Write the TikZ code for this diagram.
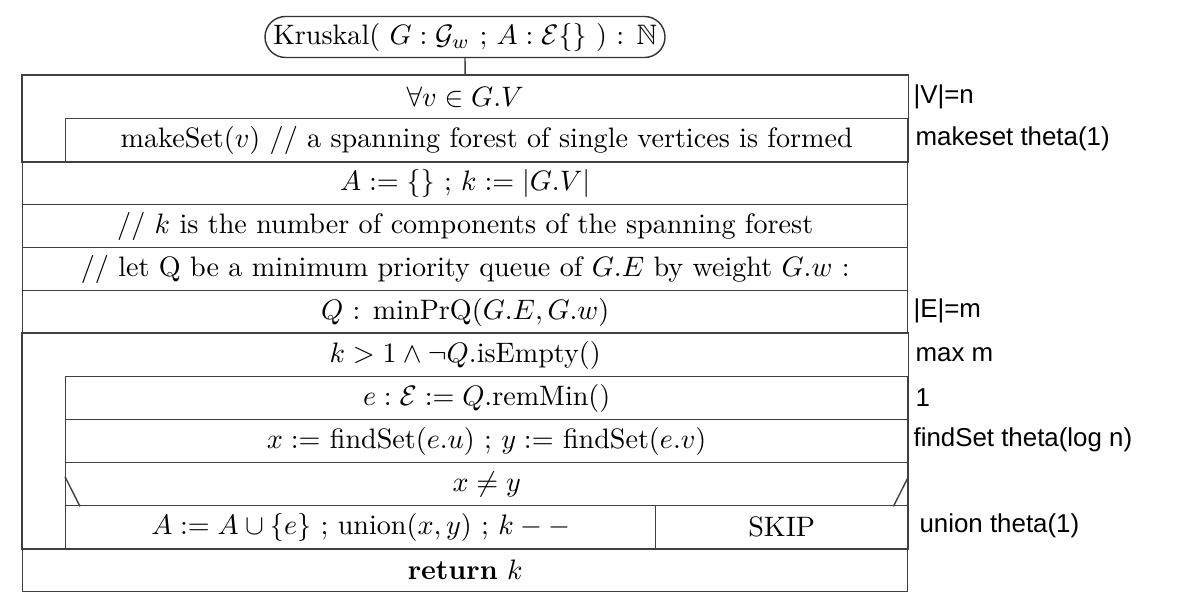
\documentclass[tikz,border=0pt]{standalone}
\usepackage{amssymb}
\usepackage{fontspec}
\usetikzlibrary{calc,shapes.misc}
\newfontfamily\notefont{Liberation Sans}
\newdimen\gridpx \gridpx=0.0125cm
\newcommand\mainsize{\fontsize{10}{12}\selectfont}
\tikzset{
  cell/.style={draw=black!75,line width=0.5pt,anchor=north west,inner sep=0pt,
    minimum width=#1\gridpx,minimum height=43\gridpx,font=\mainsize},
  cell/.default=885,
  hdr/.style={cell=#1,draw=none},
  hdr/.default=885,
  frame/.style={draw=black!75,line width=0.5pt},
  cost/.style={anchor=west,inner sep=0pt,font=\notefont\fontsize{9.2}{11}\selectfont},
}
\begin{document}
\begin{tikzpicture}[x=0.0125cm,y=-0.0125cm]
  \useasboundingbox (0,0) rectangle (1177,606);
  % function head
  \node[draw=black!80,line width=0.5pt,rounded rectangle,minimum width=400\gridpx,minimum height=41\gridpx,
    inner sep=0pt,font=\mainsize] (kruskal) at (465,37)
    {Kruskal( $G:\mathcal{G}_w$ ; $A:\mathcal{E}\{\}$ ) : $\mathbb{N}$};
  % for loop
  \node[hdr] (forv) at (22,75) {$\forall v\in G.V$};
  \node[cell=842] (mkset) at (65,118) {makeSet($v$) // a spanning forest of single vertices is formed};
  \draw[frame] (forv.north west) rectangle (mkset.south east);
  \draw[frame] (kruskal.south) -- (forv.north);
  % sequence
  \node[cell] (init) at (22,161) {$A:=\{\}$ ; $k:=|G.V|$};
  \node[cell] (cmt1) at (22,204) {// $k$ is the number of components of the spanning forest};
  \node[cell] (cmt2) at (22,247) {// let Q be a minimum priority queue of $G.E$ by weight $G.w$ :};
  \node[cell] (prq) at (22,290) {$Q$ : minPrQ($G.E,G.w$)};
  % while loop
  \node[hdr] (loop) at (22,333) {$k>1\wedge\neg Q$.isEmpty()};
  \node[cell=842] (remmin) at (65,376) {$e:\mathcal{E}:=Q$.remMin()};
  \node[cell=842] (finds) at (65,419) {$x:=$ findSet($e.u$) ; $y:=$ findSet($e.v$)};
  \node[cell=842] (cond) at (65,462) {$x\neq y$};
  \draw[frame] ($(cond.south west)+(15,0)$) -- ($(cond.west)+(0,-7.5)$);
  \draw[frame] ($(cond.south east)+(-15,0)$) -- ($(cond.east)+(0,-7.5)$);
  \node[cell=590] (union) at (65,505) {$A:=A\cup\{e\}$ ; union($x,y$) ; $k--$};
  \node[cell=252] (skip) at (655,505) {SKIP};
  \draw[frame] (loop.north west) rectangle (skip.south east);
  \node[cell] (ret) at (22,548) {\textbf{return} $k$};
  % costs
  \node[cost] (cn) at (913,97) {|V|=n};
  \node[cost] (cmk) at (915,139) {makeset theta(1)};
  \node[cost] (cm) at (913,311) {|E|=m};
  \node[cost] (cmax) at (915,355) {max m};
  \node[cost] (cone) at (915,398) {1};
  \node[cost] (cfind) at (913,440) {findSet theta(log n)};
  \node[cost] (cun) at (919,526) {union theta(1)};
\end{tikzpicture}
\end{document}
